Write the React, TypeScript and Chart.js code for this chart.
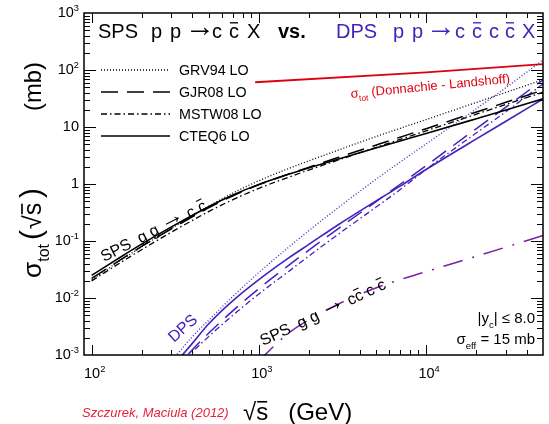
import React, { useEffect, useRef } from "react";
import { Chart, registerables } from "chart.js";

Chart.register(...registerables);

// ---------------- data ----------------
const energiesSPS = [100, 150, 200, 300, 500, 700, 1000, 1500, 2000, 3000, 5000, 7000, 10000, 20000, 30000, 50000];
const spsGRV94 = [0.021, 0.0463, 0.080, 0.166, 0.405, 0.694, 1.14, 1.86, 2.56, 3.96, 6.77, 9.5, 13.5, 27, 40.5, 67.5];
const spsGJR08 = [0.022, 0.0475, 0.081, 0.164, 0.382, 0.622, 0.97, 1.49, 1.98, 2.94, 4.8, 6.63, 9.34, 18.3, 27.1, 44.5];
const spsMSTW08 = [0.020, 0.0423, 0.071, 0.143, 0.327, 0.532, 0.84, 1.31, 1.77, 2.65, 4.37, 6.06, 8.56, 16.8, 24.9, 40.8];
const spsCTEQ6 = [0.025, 0.053, 0.089, 0.177, 0.40, 0.642, 0.985, 1.48, 1.93, 2.75, 4.27, 5.69, 7.7, 14, 19.9, 31.2];

const energiesDPS = [300, 400, 500, 700, 1000, 1500, 2000, 3000, 5000, 7000, 10000, 20000, 30000, 50000];
const dpsGRV94 = [0.00078, 0.0021, 0.00405, 0.0107, 0.028, 0.077, 0.154, 0.39, 1.2, 2.43, 5.05, 21, 49, 150];
const dpsGJR08 = [0.00046, 0.00123, 0.0024, 0.006, 0.0146, 0.037, 0.07, 0.167, 0.487, 0.99, 2.1, 9.4, 22.3, 67];
const dpsMSTW08 = [0.00033, 0.0011, 0.0021, 0.005, 0.0118, 0.029, 0.055, 0.133, 0.39, 0.8, 1.8, 7.9, 18.5, 57];
const dpsCTEQ6 = [0.0006, 0.0016, 0.0035, 0.009, 0.021, 0.05, 0.088, 0.195, 0.5, 0.92, 1.8, 6.2, 12.6, 31];

const energies4c = [1000, 1500, 2000, 3000, 5000, 7000, 10000, 20000, 30000, 50000];
const sps4c = [0.0008, 0.0024, 0.0042, 0.0079, 0.015, 0.021, 0.029, 0.054, 0.078, 0.125];

const energiesDL = [950, 10000, 50000];
const sigmaDL = [61, 91, 127];

const xTickValues = [100, 1000, 10000];
const xTickExps = ["2", "3", "4"];
const yTickValues = [0.001, 0.01, 0.1, 1, 10, 100, 1000];
const yTickBases = ["10", "10", "10", "1", "10", "10", "10"];
const yTickExps = ["-3", "-2", "-1", "", "", "2", "3"];

const legendNames = ["GRV94 LO", "GJR08 LO", "MSTW08 LO", "CTEQ6 LO"];

// ---------------- styles ----------------
const FONT = '"Liberation Sans", Arial, Helvetica, sans-serif';
const BLACK = "#000000";
const BLUE = "#4422bb";
const PURPLE = "#7a1fa8";
const RED = "#dd0011";
const DASHES: number[][] = [[1, 2], [17, 9], [6, 3, 1.5, 3], []];
const WIDTHS = [1.3, 1.5, 1.3, 1.6];

const X_MIN = 90, X_MAX = 50000, Y_MIN = 1e-3, Y_MAX = 1e3;

type Seg = { t: string; sup?: boolean; sub?: boolean; bar?: boolean; scale?: number; dy?: number; x?: number; family?: string };

function drawRich(
  ctx: CanvasRenderingContext2D,
  segs: Seg[],
  x: number,
  y: number,
  size: number,
  color: string,
  opt: { align?: string; angle?: number; style?: string } = {}
) {
  const style = opt.style || "";
  const fontFor = (s: Seg) =>
    `${style} ${(s.sub || s.sup) ? size * 0.64 * (s.scale || 1) : size * (s.scale || 1)}px ${s.family || FONT}`;
  ctx.save();
  ctx.translate(x, y);
  if (opt.angle) ctx.rotate((opt.angle * Math.PI) / 180);
  const widths = segs.map((s) => {
    ctx.font = fontFor(s);
    return ctx.measureText(s.t).width;
  });
  const total = widths.reduce((a, b) => a + b, 0);
  let cx = opt.align === "right" ? -total : opt.align === "center" ? -total / 2 : 0;
  ctx.fillStyle = color;
  ctx.strokeStyle = color;
  ctx.textBaseline = "alphabetic";
  ctx.textAlign = "left";
  segs.forEach((s, i) => {
    ctx.font = fontFor(s);
    if (s.x !== undefined) cx = s.x;
    const dy = (s.sup ? -size * 0.42 : s.sub ? size * 0.3 : 0) + (s.dy || 0);
    ctx.fillText(s.t, cx, dy);
    if (s.bar) {
      const sz = size * (s.scale || 1);
      ctx.lineWidth = Math.max(1, sz / 15);
      ctx.beginPath();
      ctx.moveTo(cx + 1, -sz * 0.76);
      ctx.lineTo(cx + widths[i] - 1, -sz * 0.76);
      ctx.stroke();
    }
    cx += widths[i];
  });
  ctx.restore();
}

const ARROW: Seg = { t: "\u2192", scale: 1.5, dy: -2 };

const rootPlugin = {
  id: "rootframe",
  afterDatasetsDraw(chart: any) {
    const { ctx, chartArea: a, scales } = chart;
    const xs = scales.x, ys = scales.y;
    ctx.save();
    ctx.strokeStyle = BLACK;
    ctx.lineWidth = 1.5;
    ctx.setLineDash([]);
    ctx.strokeRect(a.left, a.top, a.right - a.left, a.bottom - a.top);
    ctx.lineWidth = 1;
    const seg = (x1: number, y1: number, x2: number, y2: number) => {
      ctx.beginPath(); ctx.moveTo(x1, y1); ctx.lineTo(x2, y2); ctx.stroke();
    };
    for (let d = 1; d <= 4; d++) {
      for (let m = 1; m <= 9; m++) {
        const v = m * Math.pow(10, d);
        if (v <= X_MIN || v >= X_MAX) continue;
        const px = Math.round(xs.getPixelForValue(v)) + 0.5;
        const len = m === 1 ? 10 : 5;
        seg(px, a.bottom, px, a.bottom - len);
        seg(px, a.top, px, a.top + len);
      }
    }
    for (let d = -3; d <= 2; d++) {
      for (let m = 1; m <= 9; m++) {
        const v = m * Math.pow(10, d);
        if (d === -3 && m === 1) continue;
        const py = Math.round(ys.getPixelForValue(v)) + 0.5;
        const len = m === 1 ? 12 : 6;
        seg(a.left, py, a.left + len, py);
        seg(a.right, py, a.right - len, py);
      }
    }
    // tick labels
    xTickValues.forEach((v, i) => {
      drawRich(ctx, [{ t: "10" }, { t: xTickExps[i], sup: true }], xs.getPixelForValue(v) + 3, 378, 14.5, BLACK, { align: "center" });
    });
    yTickValues.forEach((v, i) => {
      const segs: Seg[] = [{ t: yTickBases[i] }];
      if (yTickExps[i]) segs.push({ t: yTickExps[i], sup: true });
      drawRich(ctx, segs, 79, ys.getPixelForValue(v) + 4, 14.5, BLACK, { align: "right" });
    });

    // legend
    const rows = [70, 92, 114, 136];
    rows.forEach((ry, i) => {
      ctx.strokeStyle = BLACK;
      ctx.lineWidth = WIDTHS[i];
      ctx.setLineDash(DASHES[i]);
      seg(101, ry, 170, ry);
      ctx.setLineDash([]);
      drawRich(ctx, [{ t: legendNames[i] }], 179, ry + 5, 14.3, BLACK);
    });

    // title
    drawRich(ctx, [{ t: "SPS", x: 0 }, { t: "p", x: 53 }, { t: "p", x: 72 }, { ...ARROW, x: 87 }, { t: "c", x: 114 }, { t: "c", x: 131, bar: true }, { t: "X", x: 149 }], 98, 38, 20, BLACK);
    drawRich(ctx, [{ t: "vs." }], 278, 38, 20, BLACK, { style: "bold" });
    drawRich(ctx, [{ t: "DPS", x: 0 }, { t: "p", x: 57 }, { t: "p", x: 76 }, { ...ARROW, x: 90 }, { t: "c", x: 119 }, { t: "c", x: 136, bar: true }, { t: "c", x: 153 }, { t: "c", x: 169, bar: true }, { t: "X", x: 186 }], 336, 38, 20, BLUE);

    // annotations
    drawRich(ctx, [{ t: "\u03c3" }, { t: "tot", sub: true }, { t: " (Donnachie - Landshoff)" }], 351, 98, 13, RED, { angle: -5.5 });
    drawRich(ctx, [{ t: "SPS  g g " }, { ...ARROW, scale: 1.5, dy: -1.5 }, { t: " c " }, { t: "c", bar: true }], 104, 262, 16, BLACK, { angle: -27 });
    drawRich(ctx, [{ t: "DPS" }], 174, 343, 16, BLUE, { angle: -42 });
    drawRich(ctx, [{ t: "SPS  g g " }, { ...ARROW, scale: 1.5, dy: -1.5 }, { t: " c" }, { t: "c", bar: true }, { t: " c " }, { t: "c", bar: true }], 263, 346, 16, BLACK, { angle: -25 });
    drawRich(ctx, [{ t: "|y" }, { t: "c", sub: true }, { t: "| \u2264 8.0" }], 535, 323, 15, BLACK, { align: "right" });
    drawRich(ctx, [{ t: "\u03c3" }, { t: "eff", sub: true }, { t: " = 15 mb" }], 535, 344, 15, BLACK, { align: "right" });

    // axis titles
    drawRich(ctx, [{ t: "\u221a" }, { t: "s", bar: true }, { t: "   (GeV)" }], 243, 420, 24, BLACK);
    drawRich(ctx, [{ t: "Szczurek, Maciula (2012)" }], 82, 417, 13, "#e8203a", { style: "italic" });
    drawRich(
      ctx,
      [
        { t: "\u03c3", x: 0, scale: 1.05 },
        { t: "tot", sub: true, scale: 1.0 },
        { t: "(", x: 38, scale: 1.2 },
        { t: "\u221a", x: 49 },
        { t: "s", bar: true },
        { t: ")", x: 80, scale: 1.2 },
        { t: "(mb)", x: 167, scale: 0.95 },
      ],
      41, 278, 25, BLACK, { angle: -90 }
    );
    ctx.restore();
  },
};

function pts(xsArr: number[], ysArr: number[]) {
  return xsArr.map((x, i) => ({ x, y: ysArr[i] }));
}

export default function App() {
  const ref = useRef<HTMLCanvasElement | null>(null);
  useEffect(() => {
    if (!ref.current) return;
    const sps = [spsGRV94, spsGJR08, spsMSTW08, spsCTEQ6];
    const dps = [dpsGRV94, dpsGJR08, dpsMSTW08, dpsCTEQ6];
    const datasets: any[] = [];
    sps.forEach((arr, i) =>
      datasets.push({
        label: "SPS " + legendNames[i],
        data: pts(energiesSPS, arr),
        borderColor: BLACK,
        borderWidth: WIDTHS[i],
        borderDash: DASHES[i],
        pointRadius: 0,
        cubicInterpolationMode: "monotone",
        fill: false,
      })
    );
    dps.forEach((arr, i) =>
      datasets.push({
        label: "DPS " + legendNames[i],
        data: pts(energiesDPS, arr),
        borderColor: BLUE,
        borderWidth: WIDTHS[i],
        borderDash: DASHES[i],
        pointRadius: 0,
        cubicInterpolationMode: "monotone",
        fill: false,
      })
    );
    datasets.push({
      label: "SPS gg -> c cbar c cbar",
      data: pts(energies4c, sps4c),
      borderColor: PURPLE,
      borderWidth: 1.5,
      borderDash: [20, 10, 2, 10],
      pointRadius: 0,
      cubicInterpolationMode: "monotone",
      fill: false,
    });
    datasets.push({
      label: "sigma_tot DL",
      data: pts(energiesDL, sigmaDL),
      borderColor: RED,
      borderWidth: 1.8,
      pointRadius: 0,
      fill: false,
    });
    const chart = new Chart(ref.current, {
      type: "line",
      data: { datasets },
      options: {
        animation: false,
        responsive: false,
        devicePixelRatio: 1,
        layout: { padding: { left: 84, right: 6, top: 13, bottom: 69 } },
        plugins: { legend: { display: false }, tooltip: { enabled: false } },
        scales: {
          x: { type: "logarithmic", min: X_MIN, max: X_MAX, display: false },
          y: { type: "logarithmic", min: Y_MIN, max: Y_MAX, display: false },
        },
      },
      plugins: [rootPlugin],
    } as any);
    return () => chart.destroy();
  }, []);
  return (
    <div style={{ position: "fixed", left: 0, top: 0, width: 549, height: 424, background: "#fff" }}>
      <canvas ref={ref} width={549} height={424} />
    </div>
  );
}
